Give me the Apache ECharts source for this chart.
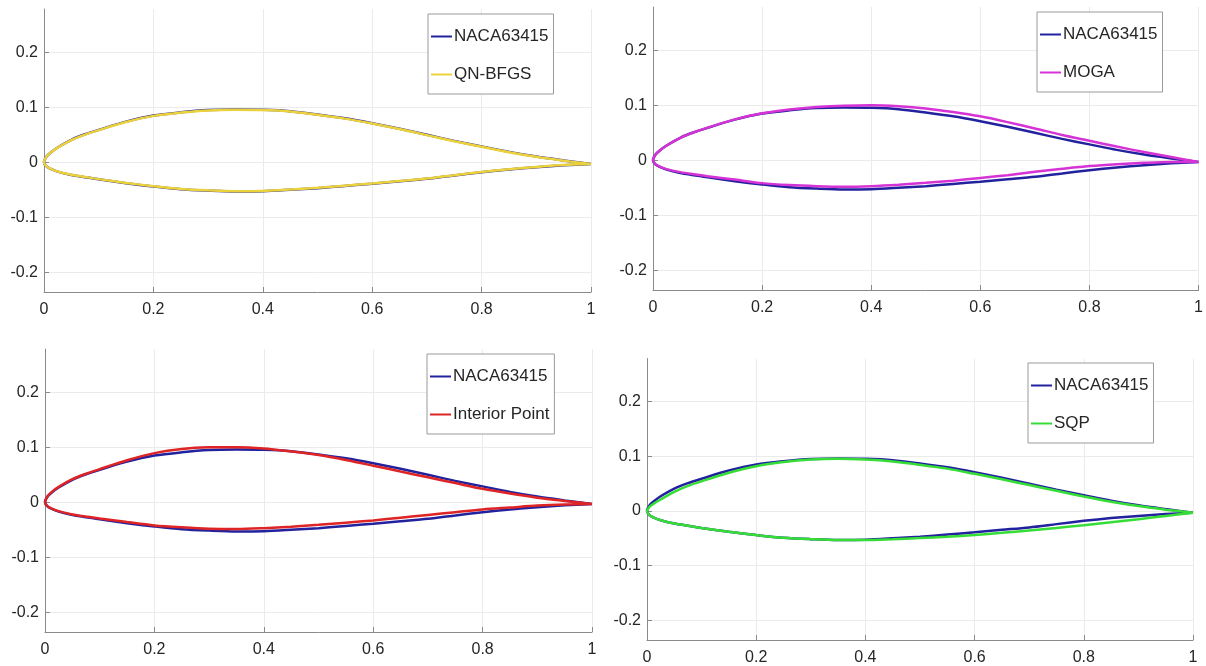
<!DOCTYPE html>
<html>
<head>
<meta charset="utf-8">
<script src="https://cdn.jsdelivr.net/npm/echarts@6/dist/echarts.min.js"></script>
<style>
html,body{margin:0;padding:0;background:#fff;}
#chart{width:1206px;height:666px;}
</style>
</head>
<body>
<div id="chart"></div>
<script>
// chord stations (x/c)
const xStations = [0, 0.005, 0.0125, 0.025, 0.05, 0.075, 0.1, 0.15, 0.2, 0.25, 0.3, 0.35, 0.4, 0.45, 0.5, 0.55, 0.6, 0.65, 0.7, 0.75, 0.8, 0.85, 0.9, 0.95, 1];

const nacaUpper = [0, 0.011, 0.018, 0.027, 0.041, 0.051, 0.059, 0.074, 0.085, 0.091, 0.095, 0.096, 0.0955, 0.093, 0.087, 0.080, 0.071, 0.061, 0.050, 0.039, 0.029, 0.019, 0.0105, 0.0035, -0.003];
const nacaLower = [0, -0.008, -0.012, -0.017, -0.023, -0.027, -0.031, -0.038, -0.044, -0.049, -0.0515, -0.053, -0.0525, -0.050, -0.047, -0.043, -0.039, -0.0345, -0.030, -0.024, -0.018, -0.013, -0.009, -0.0055, -0.003];

const qnUpper = [0, 0.011, 0.0178, 0.0267, 0.0405, 0.0505, 0.0585, 0.0735, 0.0845, 0.0905, 0.0945, 0.0955, 0.095, 0.0925, 0.0865, 0.0795, 0.0705, 0.0605, 0.0495, 0.0385, 0.0285, 0.0185, 0.010, 0.003, -0.003];
const qnLower = [0, -0.0078, -0.0118, -0.0167, -0.0226, -0.0266, -0.0306, -0.0375, -0.0435, -0.0485, -0.051, -0.0525, -0.052, -0.0495, -0.0465, -0.0425, -0.0385, -0.034, -0.0295, -0.0235, -0.0175, -0.0125, -0.0085, -0.005, -0.003];

const mogaUpper = [0, 0.011, 0.018, 0.027, 0.041, 0.051, 0.0595, 0.0745, 0.0855, 0.0925, 0.097, 0.0995, 0.1002, 0.0985, 0.0945, 0.088, 0.080, 0.0695, 0.058, 0.046, 0.0355, 0.025, 0.015, 0.006, -0.003];
const mogaLower = [0, -0.0075, -0.0115, -0.016, -0.0215, -0.0255, -0.029, -0.035, -0.0415, -0.045, -0.047, -0.048, -0.047, -0.0445, -0.041, -0.037, -0.032, -0.027, -0.021, -0.0155, -0.0105, -0.007, -0.0045, -0.003, -0.003];

const ipUpper = [0, 0.0115, 0.019, 0.028, 0.042, 0.052, 0.0605, 0.0765, 0.0895, 0.097, 0.100, 0.1003, 0.098, 0.0925, 0.086, 0.077, 0.0667, 0.056, 0.0455, 0.035, 0.0245, 0.016, 0.0085, 0.0025, -0.003];
const ipLower = [0, -0.0075, -0.0115, -0.016, -0.022, -0.026, -0.0295, -0.036, -0.042, -0.0455, -0.048, -0.0485, -0.047, -0.0445, -0.041, -0.037, -0.033, -0.028, -0.023, -0.018, -0.013, -0.0095, -0.006, -0.004, -0.003];

const sqpUpper = [0, 0.008, 0.0135, 0.021, 0.035, 0.046, 0.0545, 0.070, 0.082, 0.0895, 0.094, 0.0955, 0.094, 0.0905, 0.0845, 0.0775, 0.068, 0.058, 0.0475, 0.037, 0.0265, 0.017, 0.009, 0.0025, -0.003];
const sqpLower = [0, -0.008, -0.012, -0.017, -0.023, -0.027, -0.031, -0.038, -0.044, -0.049, -0.0515, -0.053, -0.053, -0.0515, -0.0495, -0.047, -0.044, -0.040, -0.0355, -0.031, -0.026, -0.0205, -0.015, -0.009, -0.003];

const xTicks = [0, 0.2, 0.4, 0.6, 0.8, 1];
const yTicks = [-0.2, -0.1, 0, 0.1, 0.2];

const panelNames = ['QN-BFGS', 'MOGA', 'Interior Point', 'SQP'];
const baseName = 'NACA63415';

// build closed contour: trailing edge -> leading edge along upper, then back along lower
function contour(upper, lower) {
  const pts = [];
  for (let i = xStations.length - 1; i >= 0; i--) pts.push([xStations[i], upper[i]]);
  for (let i = 1; i < xStations.length; i++) pts.push([xStations[i], lower[i]]);
  return pts;
}

const optShapes = [
  [qnUpper, qnLower],
  [mogaUpper, mogaLower],
  [ipUpper, ipLower],
  [sqpUpper, sqpLower]
];

const colors = {
  base: '#22229e',
  opt: ['#ecd23a', '#d633d6', '#de2424', '#36dd36']
};

const grids = [
  {left: 44, top: 9, width: 547, height: 283},
  {left: 653, top: 7, width: 548, height: 283},
  {left: 45, top: 349, width: 547, height: 283},
  {left: 647, top: 358.5, width: 546, height: 282.5}
];
const legendPos = [
  {left: 428, top: 14},
  {left: 1037, top: 12},
  {left: 427, top: 354},
  {left: 1028, top: 363}
];

const font = 'Liberation Sans, Arial, sans-serif';
const axisColor = '#8a8a8a';
const gridColor = '#ebebeb';

const xAxes = [], yAxes = [], series = [], legends = [];
for (let p = 0; p < 4; p++) {
  xAxes.push({
    type: 'value', gridIndex: p, min: 0, max: 1, interval: 0.2,
    axisLine: {show: true, onZero: false, lineStyle: {color: axisColor, width: 1}},
    axisTick: {show: true, inside: true, length: 5, lineStyle: {color: axisColor}, customValues: xTicks},
    axisLabel: {show: true, color: '#262626', fontSize: 16, fontFamily: font, margin: 10, customValues: xTicks,
      formatter: v => String(Math.round(v * 10) / 10)},
    splitLine: {show: true, showMinLine: false, showMaxLine: true, lineStyle: {color: gridColor, width: 1}}
  });
  yAxes.push({
    type: 'value', gridIndex: p, min: -0.236, max: 0.279, minInterval: 0.1, maxInterval: 0.1,
    axisLine: {show: true, onZero: false, lineStyle: {color: axisColor, width: 1}},
    axisTick: {show: true, inside: true, length: 5, lineStyle: {color: axisColor}, customValues: yTicks},
    axisLabel: {show: true, color: '#262626', fontSize: 16, fontFamily: font, margin: 6,
      showMinLabel: true, showMaxLabel: true, customValues: yTicks,
      formatter: v => String(Math.round(v * 10) / 10)},
    splitLine: {show: true, showMinLine: true, showMaxLine: true, lineStyle: {color: gridColor, width: 1}}
  });
  series.push({
    name: baseName, type: 'line', xAxisIndex: p, yAxisIndex: p,
    data: contour(nacaUpper, nacaLower),
    symbol: 'none', smooth: 0.3, clip: false, z: 3,
    lineStyle: {color: colors.base, width: 2.5}, itemStyle: {color: colors.base}
  });
  series.push({
    name: panelNames[p], type: 'line', xAxisIndex: p, yAxisIndex: p,
    data: contour(optShapes[p][0], optShapes[p][1]),
    symbol: 'none', smooth: 0.3, clip: false, z: 4,
    lineStyle: {color: colors.opt[p], width: 2.5}, itemStyle: {color: colors.opt[p]}
  });
  legends.push({
    show: true, orient: 'vertical', left: legendPos[p].left, top: legendPos[p].top,
    data: [baseName, panelNames[p]],
    icon: 'rect',
    backgroundColor: '#ffffff', borderColor: '#9a9a9a', borderWidth: 1, borderRadius: 0,
    padding: [14, 5, 11, 3], itemGap: 21, itemWidth: 21, itemHeight: 2,
    selectedMode: false,
    textStyle: {fontSize: 17, color: '#262626', fontFamily: font, padding: [0, 0, 0, -3]}
  });
}

const chart = echarts.init(document.getElementById('chart'), null, {renderer: 'canvas'});
chart.setOption({
  backgroundColor: '#ffffff',
  animation: false,
  grid: grids,
  xAxis: xAxes,
  yAxis: yAxes,
  legend: legends,
  series: series
});
</script>
</body>
</html>
